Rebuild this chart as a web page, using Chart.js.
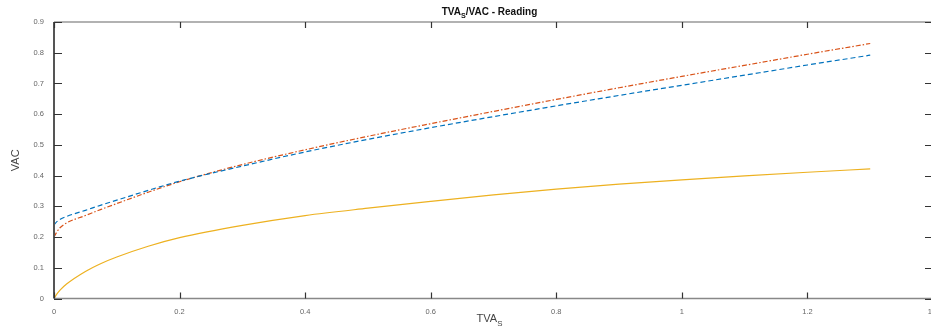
<!DOCTYPE html>
<html>
<head>
<meta charset="utf-8">
<script src="https://cdn.jsdelivr.net/npm/chart.js@4/dist/chart.umd.min.js"></script>
<style>
  html, body { margin: 0; padding: 0; background: #fff; overflow: hidden; }
  #wrap { width: 931px; height: 327px; overflow: hidden; position: relative; }
  #chart { display: block; }
</style>
</head>
<body>
<div id="wrap"><canvas id="chart" width="940" height="327"></canvas></div>
<script>
const tvaS = [0, 0.005, 0.01, 0.02, 0.05, 0.075, 0.1, 0.15, 0.2, 0.3, 0.4, 0.5, 0.6, 0.7, 0.8, 0.9, 1.0, 1.1, 1.2, 1.3];
const vacBlue = [0.24, 0.251, 0.258, 0.267, 0.287, 0.304, 0.32, 0.352, 0.382, 0.431, 0.477, 0.518, 0.556, 0.592, 0.627, 0.661, 0.694, 0.727, 0.76, 0.792];
const vacOrange = [0.2, 0.218, 0.231, 0.246, 0.27, 0.29, 0.309, 0.346, 0.38, 0.436, 0.484, 0.528, 0.569, 0.609, 0.648, 0.686, 0.723, 0.759, 0.795, 0.83];
const vacYellow = [0, 0.016, 0.028, 0.047, 0.088, 0.114, 0.135, 0.17, 0.198, 0.238, 0.27, 0.294, 0.316, 0.337, 0.356, 0.372, 0.386, 0.399, 0.411, 0.422];
const xTicks = [0, 0.2, 0.4, 0.6, 0.8, 1, 1.2, 1.4];
const yTicks = [0, 0.1, 0.2, 0.3, 0.4, 0.5, 0.6, 0.7, 0.8, 0.9];

const FONT = '"Liberation Sans", Arial, sans-serif';

function toPoints(ys) {
  return tvaS.map((x, i) => ({ x: x, y: ys[i] }));
}

// draws the MATLAB style box, inward ticks and the titles with subscripts
const matlabAxes = {
  id: 'matlabAxes',
  afterDraw(chart) {
    const ctx = chart.ctx;
    const a = chart.chartArea;
    const xs = chart.scales.x;
    const ys = chart.scales.y;
    ctx.save();

    // frame
    ctx.lineWidth = 1.5;
    ctx.strokeStyle = '#999';
    ctx.beginPath();
    ctx.moveTo(a.left, a.top); ctx.lineTo(a.right, a.top);
    ctx.moveTo(a.right, a.top); ctx.lineTo(a.right, a.bottom);
    ctx.stroke();
    ctx.strokeStyle = '#888';
    ctx.beginPath();
    ctx.moveTo(a.left, a.bottom); ctx.lineTo(a.right, a.bottom);
    ctx.stroke();
    ctx.strokeStyle = '#555';
    ctx.lineWidth = 2;
    ctx.beginPath();
    ctx.moveTo(a.left, a.top); ctx.lineTo(a.left, a.bottom);
    ctx.stroke();

    // inward ticks
    ctx.strokeStyle = '#333';
    ctx.lineWidth = 1.2;
    ctx.beginPath();
    xTicks.forEach(v => {
      const px = Math.round(xs.getPixelForValue(v)) + 0.5;
      ctx.moveTo(px, a.bottom); ctx.lineTo(px, a.bottom - 6);
      ctx.moveTo(px, a.top); ctx.lineTo(px, a.top + 6);
    });
    yTicks.forEach(v => {
      const py = Math.round(ys.getPixelForValue(v)) + 0.5;
      ctx.moveTo(a.left, py); ctx.lineTo(a.left + 8, py);
      ctx.moveTo(a.right, py); ctx.lineTo(a.right - 8, py);
    });
    ctx.stroke();

    // title with subscript
    function subText(parts, cx, cy, size, weight, color) {
      ctx.fillStyle = color;
      ctx.textBaseline = 'alphabetic';
      ctx.textAlign = 'left';
      let total = 0;
      parts.forEach(p => {
        ctx.font = weight + ' ' + (p.sub ? size * 0.72 : size) + 'px ' + FONT;
        total += ctx.measureText(p.t).width;
      });
      let x = cx - total / 2;
      parts.forEach(p => {
        ctx.font = weight + ' ' + (p.sub ? size * 0.72 : size) + 'px ' + FONT;
        ctx.fillText(p.t, x, cy + (p.sub ? size * 0.32 : 0));
        x += ctx.measureText(p.t).width;
      });
    }
    const midX = (a.left + a.right) / 2 - 4;
    subText([{ t: 'TVA' }, { t: 'S', sub: true }, { t: '/VAC - Reading' }], midX, 15, 10, 'bold', '#111');
    subText([{ t: 'TVA' }, { t: 'S', sub: true }], midX, 322, 11, 'normal', '#444');

    // y title
    ctx.save();
    ctx.translate(19, (a.top + a.bottom) / 2);
    ctx.rotate(-Math.PI / 2);
    ctx.font = '11px ' + FONT;
    ctx.fillStyle = '#444';
    ctx.textAlign = 'center';
    ctx.textBaseline = 'alphabetic';
    ctx.fillText('VAC', 0, 0);
    ctx.restore();

    ctx.restore();
  }
};

const ctx = document.getElementById('chart').getContext('2d');
const chart = new Chart(ctx, {
  type: 'line',
  data: {
    datasets: [
      {
        label: 'blue',
        data: toPoints(vacBlue),
        borderColor: '#0072BD',
        borderWidth: 1.2,
        borderDash: [5, 3],
        pointRadius: 0,
        fill: false,
        cubicInterpolationMode: 'monotone'
      },
      {
        label: 'orange',
        data: toPoints(vacOrange),
        borderColor: '#D95319',
        borderWidth: 1.2,
        borderDash: [5, 2, 1.5, 2],
        pointRadius: 0,
        fill: false,
        cubicInterpolationMode: 'monotone'
      },
      {
        label: 'yellow',
        data: toPoints(vacYellow),
        borderColor: '#EDB120',
        borderWidth: 1.2,
        pointRadius: 0,
        fill: false,
        cubicInterpolationMode: 'monotone'
      }
    ]
  },
  options: {
    responsive: false,
    animation: false,
    events: [],
    layout: { padding: { left: 0, top: 22, right: 7, bottom: 0 } },
    scales: {
      x: {
        type: 'linear',
        min: 0,
        max: 1.4,
        grid: { display: false },
        border: { display: false },
        afterBuildTicks: s => { s.ticks = xTicks.map(v => ({ value: v })); },
        afterFit: s => { s.height = 28.5; },
        ticks: {
          padding: 1,
          color: '#666',
          font: { family: FONT, size: 7.5 },
          maxRotation: 0,
          autoSkip: false,
          callback: v => String(+v.toFixed(1))
        }
      },
      y: {
        type: 'linear',
        min: 0,
        max: 0.9,
        grid: { display: false },
        border: { display: false },
        afterBuildTicks: s => { s.ticks = yTicks.map(v => ({ value: v })); },
        afterFit: s => { s.width = 54; },
        ticks: {
          padding: 2,
          color: '#666',
          font: { family: FONT, size: 7.5 },
          autoSkip: false,
          callback: v => String(+v.toFixed(1))
        }
      }
    },
    plugins: {
      legend: { display: false },
      tooltip: { enabled: false },
      title: { display: false }
    }
  },
  plugins: [matlabAxes]
});
</script>
</body>
</html>
